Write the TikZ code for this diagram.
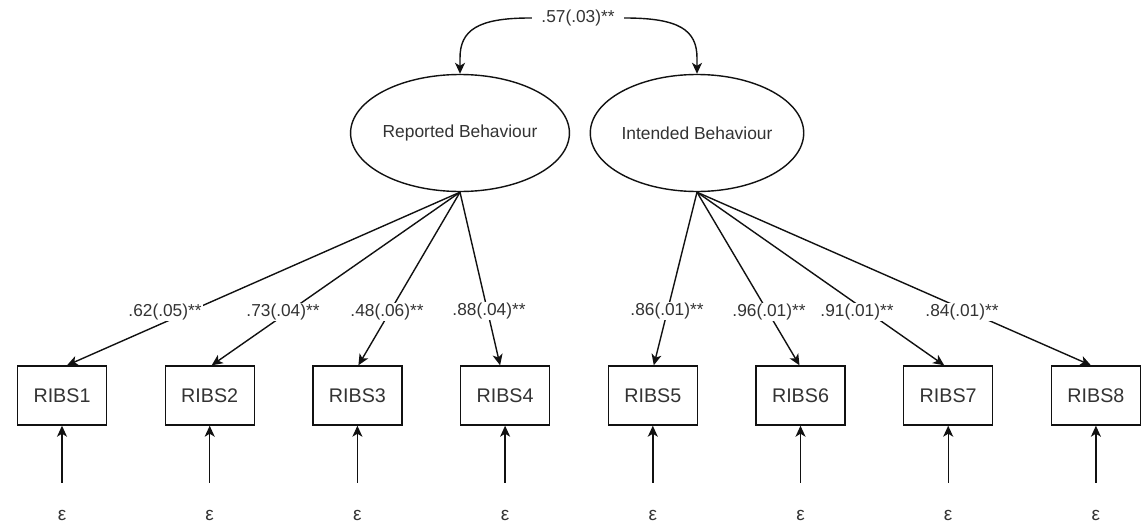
\documentclass[tikz,border=0pt]{standalone}
\usepackage{fontspec}
\setmainfont{Liberation Sans}
\usetikzlibrary{arrows.meta,shapes.geometric}
\definecolor{txt}{HTML}{333333}
\definecolor{ln}{HTML}{111111}
\begin{document}
\begin{tikzpicture}[x=1pt,y=-1pt,
  >={Stealth[length=11pt,width=10pt,inset=3pt]},
  lat/.style={ellipse, draw=ln, line width=1.4pt, minimum width=177pt, minimum height=117pt, inner sep=0pt, font=\fontsize{17.4}{20}\selectfont, text=txt},
  obs/.style={rectangle, draw=ln, line width=1.4pt, minimum width=89pt, minimum height=59pt, inner sep=0pt, font=\fontsize{19.7}{22}\selectfont, text=txt},
  err/.style={minimum height=64pt, inner sep=0pt, font=\fontsize{19}{22}\selectfont, text=txt},
  lbl/.style={fill=white, inner sep=1pt, font=\fontsize{17.3}{20}\selectfont, text=txt},
  arr/.style={draw=ln, line width=1.4pt, ->}
]
\fill[white] (0,0) rectangle (1142,527);
\useasboundingbox (0,0) rectangle (1142,527);

\node[lat] (RB) at (460,133) {Reported Behaviour};
\node[lat] (IB) at (697,133) {Intended Behaviour};

\foreach \i/\x in {1/62,2/209.7,3/357.4,4/505.1,5/652.8,6/800.5,7/948.2,8/1095.9}{
  \node[obs] (b\i) at (\x,395.5) {RIBS\i};
  \node[err] (e\i) at (\x,515) {ε};
  \draw[arr] (e\i.north) -- (b\i.south);
}

% correlation
\draw[draw=ln, line width=1.4pt, <->] (RB.north) -- (460,58) .. controls (460,30) and (478,18) .. (530,18) -- (625,18) .. controls (679,18) and (697,30) .. (697,58) -- (IB.north);
\node[lbl, inner xsep=9pt] (corr) at (578,18) {.57(.03)**};

% loadings
\foreach \i/\dx in {1/5,2/2,3/1,4/-5}
  \draw[arr] (RB.south) -- ([xshift=\dx pt]b\i.north);
\foreach \i/\dx in {5/1,6/-1,7/-4,8/-5}
  \draw[arr] (IB.south) -- ([xshift=\dx pt]b\i.north);

\node[lbl] (l1) at (165,312) {.62(.05)**};
\node[lbl] (l2) at (283,312) {.73(.04)**};
\node[lbl] (l3) at (387,312) {.48(.06)**};
\node[lbl] (l4) at (489,311) {.88(.04)**};
\node[lbl] (l5) at (667,311) {.86(.01)**};
\node[lbl] (l6) at (769,312) {.96(.01)**};
\node[lbl] (l7) at (857,312) {.91(.01)**};
\node[lbl] (l8) at (962,312) {.84(.01)**};
\end{tikzpicture}
\end{document}
